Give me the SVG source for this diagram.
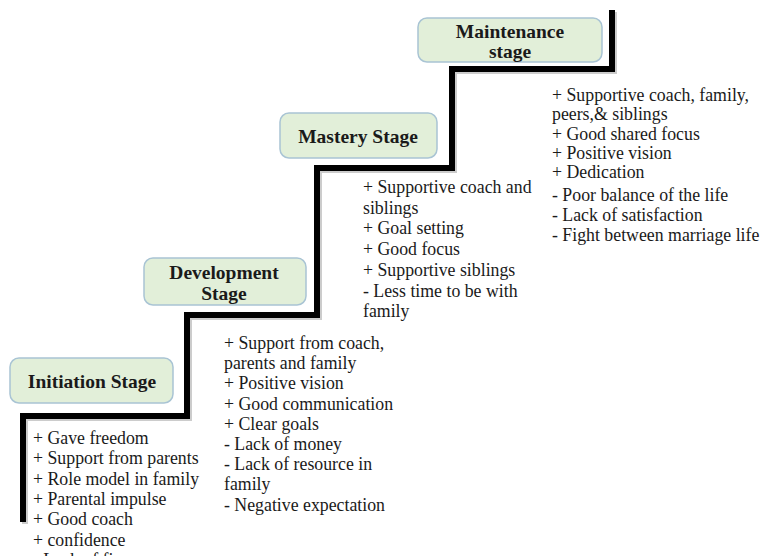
<svg xmlns="http://www.w3.org/2000/svg" width="764" height="556" viewBox="0 0 764 556">
<style>
.box{fill:#e2efd9;stroke:#a9c4d4;stroke-width:1.5}
text{font-family:'Liberation Serif','Tinos','DejaVu Serif',serif}
.h{font-weight:bold;font-size:19.5px;fill:#1a1a1a;text-anchor:middle}
.t{font-size:17.8px;fill:#1a1a1a}
</style>
<rect width="764" height="556" fill="#ffffff"/>
<g id="connectors">
<path d="M 614 12 V 71 H 454 V 170 H 319 V 317 H 189 V 418 H 25 V 524" fill="none" stroke="#9a9a9a" stroke-width="6" opacity="0.5"/>
<path d="M 612 10 V 69 H 452 V 168 H 317 V 315 H 187 V 416 H 23 V 522" fill="none" stroke="#000" stroke-width="6" stroke-linejoin="miter"/>
</g>
<g id="initiation">
<rect class="box" x="10" y="358" width="163" height="45" rx="9"/>
<text class="h" x="92" y="388" font-family="Liberation Serif, serif">Initiation Stage</text>
</g>
<g id="development">
<rect class="box" x="144" y="258" width="162" height="47" rx="9"/>
<text class="h" x="224" y="279" font-family="Liberation Serif, serif">Development</text>
<text class="h" x="224" y="300" font-family="Liberation Serif, serif">Stage</text>
</g>
<g id="mastery">
<rect class="box" x="280" y="113" width="157" height="45" rx="9"/>
<text class="h" x="358" y="143" font-family="Liberation Serif, serif">Mastery Stage</text>
</g>
<g id="maintenance">
<rect class="box" x="418" y="18" width="184" height="44" rx="9"/>
<text class="h" x="510" y="38" font-family="Liberation Serif, serif">Maintenance</text>
<text class="h" x="510" y="58" font-family="Liberation Serif, serif">stage</text>
</g>
<g id="initiation-list" font-family="Liberation Serif, serif">
<text class="t" x="33" y="444">+ Gave freedom</text>
<text class="t" x="33" y="464.3">+ Support from parents</text>
<text class="t" x="33" y="484.6">+ Role model in family</text>
<text class="t" x="33" y="504.9">+ Parental impulse</text>
<text class="t" x="33" y="525.2">+ Good coach</text>
<text class="t" x="33" y="545.5">+ confidence</text>
<text class="t" x="33" y="565.8">- Lack of finance</text>
</g>
<g id="development-list" font-family="Liberation Serif, serif">
<text class="t" x="224" y="349">+ Support from coach,</text>
<text class="t" x="224" y="369.2">parents and family</text>
<text class="t" x="224" y="389.4">+ Positive vision</text>
<text class="t" x="224" y="409.6">+ Good communication</text>
<text class="t" x="224" y="429.8">+ Clear goals</text>
<text class="t" x="224" y="450">- Lack of money</text>
<text class="t" x="224" y="470.2">- Lack of resource in</text>
<text class="t" x="224" y="490.4">family</text>
<text class="t" x="224" y="510.6">- Negative expectation</text>
</g>
<g id="mastery-list" font-family="Liberation Serif, serif">
<text class="t" x="363" y="193">+ Supportive coach and</text>
<text class="t" x="363" y="213.7">siblings</text>
<text class="t" x="363" y="234.4">+ Goal setting</text>
<text class="t" x="363" y="255.1">+ Good focus</text>
<text class="t" x="363" y="275.8">+ Supportive siblings</text>
<text class="t" x="363" y="296.5">- Less time to be with</text>
<text class="t" x="363" y="317.2">family</text>
</g>
<g id="maintenance-list" font-family="Liberation Serif, serif">
<text class="t" x="552" y="101">+ Supportive coach, family,</text>
<text class="t" x="552" y="120.3">peers,&amp; siblings</text>
<text class="t" x="552" y="139.6">+ Good shared focus</text>
<text class="t" x="552" y="158.9">+ Positive vision</text>
<text class="t" x="552" y="178.2">+ Dedication</text>
<text class="t" x="552" y="200.5">- Poor balance of the life</text>
<text class="t" x="552" y="220.8">- Lack of satisfaction</text>
<text class="t" x="552" y="241.1">- Fight between marriage life</text>
</g>
</svg>
